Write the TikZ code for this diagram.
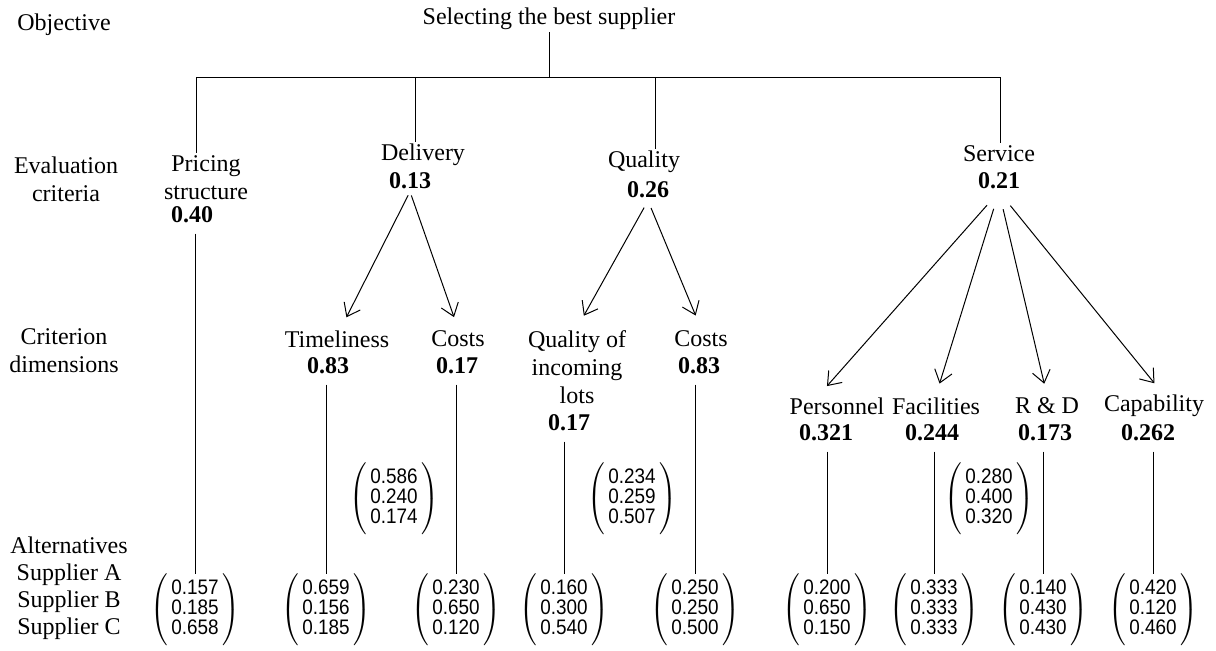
\documentclass[tikz,border=0pt]{standalone}
\usepackage{fontspec}
\setmainfont{Liberation Serif}
\newfontfamily\vecfont[FakeStretch=0.9]{Liberation Sans}
\usetikzlibrary{arrows.meta,positioning}

\renewcommand{\arraystretch}{0.86}
\newcommand{\vect}[3]{$\left(\vrule height 19pt depth 14pt width 0pt
    \begin{tabular}{@{\,}c@{\,}}#1\\#2\\#3\end{tabular}\right)$}

\begin{document}
\fontsize{12}{14}\selectfont
\begin{tikzpicture}[
        x=0.5pt, y=-0.5pt, line width=0.5pt,
        >={Straight Barb[length=6pt,width=9pt]},
        every edge/.append style={->}
    ]
    \useasboundingbox (0,0) rectangle (1216,650);

    \tikzstyle{lvl} = [align=center, inner sep=1pt]
    \tikzstyle{crit} = [align=center, inner sep=1pt]
    \tikzstyle{wt} = [font=\bfseries, inner sep=1pt]
    \tikzstyle{vec} = [inner sep=0pt, font=\vecfont\fontsize{10.5}{10.5}\selectfont]
    \tikzstyle{drop} = [shorten <=4pt]

    % levels on the left
    \node[lvl] (lobj) at (64,25) {Objective};
    \node[lvl] (leval) at (66,179) {Evaluation\\criteria};
    \node[lvl] (lcrit) at (64,351) {Criterion\\dimensions};
    \node[lvl, font=\fontsize{12}{13.5}\selectfont] (lalt) at (69,588) {Alternatives\\Supplier A\\Supplier B\\Supplier C};

    % goal and criteria
    \node[crit] (goal) at (549,19) {Selecting the best supplier};
    \node[crit] (price) at (206,178) {Pricing\\structure};
    \node[wt] (wprice) at (192,215) {0.40};
    \node[crit] (del) at (423,155) {Delivery};
    \node[wt] (wdel) at (410,181) {0.13};
    \node[crit] (qual) at (644,162) {Quality};
    \node[wt] (wqual) at (648,190) {0.26};
    \node[crit] (serv) at (999,154) {Service};
    \node[wt] (wserv) at (999,181) {0.21};

    % criterion dimensions
    \node[crit] (time) at (337,339) {Timeliness};
    \node[wt] (wtime) at (328,366) {0.83};
    \node[crit] (dcost) at (458,339) {Costs};
    \node[wt] (wdcost) at (457,366) {0.17};
    \node[crit] (lots) at (577,367) {Quality of\\incoming\\lots};
    \node[wt] (wlots) at (569,423) {0.17};
    \node[crit] (qcost) at (701,339) {Costs};
    \node[wt] (wqcost) at (699,366) {0.83};
    \node[crit] (pers) at (837,406) {Personnel};
    \node[wt] (wpers) at (826,433) {0.321};
    \node[crit] (fac) at (936,406) {Facilities};
    \node[wt] (wfac) at (932,433) {0.244};
    \node[crit] (rd) at (1047,406) {R \& D};
    \node[wt] (wrd) at (1045,433) {0.173};
    \node[crit] (cap) at (1154,406) {Capability};
    \node[wt] (wcap) at (1148,433) {0.262};

    % weights of the dimensions
    \node[vec] (mdel) at (394,499) {\vect{0.586}{0.240}{0.174}};
    \node[vec] (mqual) at (632,499) {\vect{0.234}{0.259}{0.507}};
    \node[vec] (mserv) at (989,499) {\vect{0.280}{0.400}{0.320}};

    % alternatives
    \node[vec] (mprice) at (195,610) {\vect{0.157}{0.185}{0.658}};
    \node[vec] (mtime) at (326,610) {\vect{0.659}{0.156}{0.185}};
    \node[vec] (mdcost) at (456,610) {\vect{0.230}{0.650}{0.120}};
    \node[vec] (mlots) at (564,610) {\vect{0.160}{0.300}{0.540}};
    \node[vec] (mqcost) at (695,610) {\vect{0.250}{0.250}{0.500}};
    \node[vec] (mpers) at (827,610) {\vect{0.200}{0.650}{0.150}};
    \node[vec] (mfac) at (934,610) {\vect{0.333}{0.333}{0.333}};
    \node[vec] (mrd) at (1043,610) {\vect{0.140}{0.430}{0.430}};
    \node[vec] (mcap) at (1153,610) {\vect{0.420}{0.120}{0.460}};

    % hierarchy
    \coordinate (barL) at (196,77);
    \coordinate (barR) at (1000,77);
    \coordinate (sdel) at (415,77);
    \coordinate (squal) at (655,77);
    \draw (barL) -- (barR);
    \draw (goal) -- (goal |- barL);
    \draw (barL) -- (barL |- price.north);
    \draw (sdel) -- (sdel |- del.north);
    \draw (squal) -- (squal |- qual.north);
    \draw (barR) -- (barR |- serv.north);

    \path[shorten <=2pt, shorten >=6pt]
        (wdel.south)  edge ([xshift=2pt]time.north)
                      edge (dcost.north)
    ;
    \path[shorten <=4pt, shorten >=7pt]
        (wqual.south) edge (lots.north)
                      edge (qcost.north)
    ;
    \path[shorten <=9pt, shorten >=6pt]
        (wserv.south) edge ([xshift=-9pt]pers.north)
                      edge (fac.north)
                      edge (rd.north)
                      edge ([xshift=4pt]cap.north)
    ;

    \draw[drop] (mprice |- wprice.south) -- (mprice);
    \draw[drop] (mtime |- wtime.south) -- (mtime);
    \draw[drop] (mdcost |- wdcost.south) -- (mdcost);
    \draw[drop] (mlots |- wlots.south) -- (mlots);
    \draw[drop] (mqcost |- wqcost.south) -- (mqcost);
    \draw[drop] (mpers |- wpers.south) -- (mpers);
    \draw[drop] (mfac |- wfac.south) -- (mfac);
    \draw[drop] (mrd |- wrd.south) -- (mrd);
    \draw[drop] (mcap |- wcap.south) -- (mcap);

\end{tikzpicture}
\end{document}
